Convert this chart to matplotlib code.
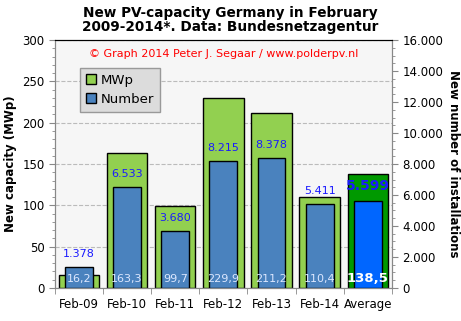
import matplotlib.pyplot as plt
import matplotlib
import numpy as np
from matplotlib.patches import Patch

matplotlib.rcParams['font.family'] = 'DejaVu Sans'
matplotlib.rcParams['font.size'] = 8

# Data
months = ['Feb-09', 'Feb-10', 'Feb-11', 'Feb-12', 'Feb-13', 'Feb-14', 'Average']
mwp = [16.2, 163.3, 99.7, 229.9, 211.2, 110.4, 138.5]
number = [1378, 6533, 3680, 8215, 8378, 5411, 5599]

def nl_int(v):
    return f'{v:,.0f}'.replace(',', '.')

def nl_dec(v):
    return f'{v:.1f}'.replace('.', ',')

x = np.arange(len(months))
green = ['#92d050'] * 6 + ['#009900']
blue = ['#4a82be'] * 6 + ['#0066ff']

fig = plt.figure(figsize=(4.61, 3.21), dpi=100)
ax1 = fig.add_axes([0.119, 0.103, 0.731, 0.772])
ax2 = ax1.twinx()
ax1.set_facecolor('#f6f6f6')

ax1.bar(x, mwp, 0.84, color=green, edgecolor='black', linewidth=1.0, zorder=2)
ax2.bar(x, number, 0.58, color=blue, edgecolor='black', linewidth=1.0, zorder=3)

ax1.set_ylim(0, 300)
ax2.set_ylim(0, 16000)
ax1.set_xlim(-0.5, len(months) - 0.5)
ax1.set_yticks(np.arange(0, 301, 50))
ax1.set_yticks(np.arange(0, 301, 10), minor=True)
ax2.set_yticks(np.arange(0, 16001, 2000))
ax2.set_yticks(np.arange(0, 16001, 500), minor=True)
ax2.set_yticklabels([nl_int(v) for v in np.arange(0, 16001, 2000)])
ax1.yaxis.grid(True, linestyle='--', color='#bbbbbb', linewidth=0.8, zorder=0)
ax1.set_axisbelow(True)

ax1.set_xticks(x)
ax1.set_xticklabels(months, fontsize=8.5)
ax1.set_xticks(np.arange(-0.5, len(months)), minor=True)
ax1.tick_params(axis='x', which='major', length=0, pad=7)
ax1.tick_params(axis='x', which='minor', length=4, color='#888888')
ax1.tick_params(axis='y', which='major', length=4, color='#888888', labelsize=8.5)
ax1.tick_params(axis='y', which='minor', length=2, color='#888888')
ax2.tick_params(axis='y', which='major', length=4, color='#888888', labelsize=8.5)
ax2.tick_params(axis='y', which='minor', length=2, color='#888888')
for a in (ax1, ax2):
    for s in ('left', 'bottom', 'right'):
        a.spines[s].set_color('#888888')
    a.spines['top'].set_color('black')

ax1.set_ylabel('New capacity (MWp)', fontweight='bold', fontsize=8.5, labelpad=4)
ax2.set_ylabel('New number of installations', fontweight='bold', fontsize=8.5,
               rotation=270, labelpad=12)
fig.suptitle('New PV-capacity Germany in February\n2009-2014*. Data: Bundesnetzagentur',
             fontweight='bold', fontsize=9.8, y=0.982, linespacing=1.0)

ax1.text(0.5, 0.965, '\u00a9 Graph 2014 Peter J. Segaar / www.polderpv.nl',
         transform=ax1.transAxes, color='red', ha='center', va='top', fontsize=8)

for i in range(len(months)):
    last = i == len(months) - 1
    ax2.text(x[i], number[i] + 500, nl_int(number[i]), color='#1a1aff',
             ha='center', va='bottom', fontsize=10 if last else 8,
             fontweight='bold' if last else 'normal', zorder=5)
    ax2.text(x[i], 11, nl_dec(mwp[i]), transform=ax1.transData,
             color='white' if last else '#dde8ff',
             ha='center', va='center', fontsize=9.5 if last else 8,
             fontweight='bold' if last else 'normal', zorder=5)

handles = [Patch(facecolor='#92d050', edgecolor='black'),
           Patch(facecolor='#4a82be', edgecolor='black')]
leg = ax2.legend(handles, ['MWp', 'Number'], loc='upper left',
                 bbox_to_anchor=(0.055, 0.915), fontsize=9.5, frameon=True,
                 fancybox=False, handlelength=0.8, handleheight=0.8,
                 handletextpad=0.3, borderpad=0.45, labelspacing=0.45)
leg.get_frame().set_facecolor('#dcdcdc')
leg.get_frame().set_edgecolor('#999999')
leg.get_frame().set_alpha(1)

fig.savefig('out.png', dpi=100, facecolor='white')
